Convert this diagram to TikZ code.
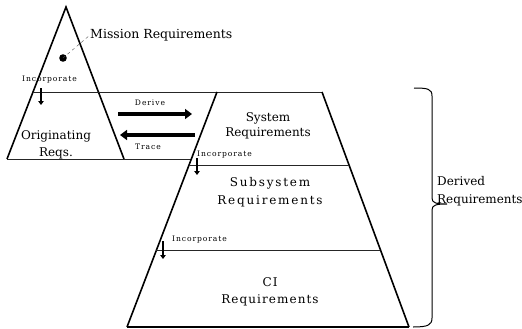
\documentclass[tikz,border=0pt]{standalone}
\usepackage{fontspec}
\setmainfont{DejaVu Serif}
\newfontfamily\incfont[LetterSpace=12]{DejaVu Serif}
\newfontfamily\subfont[LetterSpace=15]{DejaVu Serif}
\newfontfamily\cifont[LetterSpace=9]{DejaVu Serif}
\usetikzlibrary{arrows.meta}
\begin{document}
\begin{tikzpicture}[x=1pt,y=-1pt,
 edge/.style={line width=1.6pt, line join=miter},
 hline/.style={line width=1pt, black!85},
 lbl/.style={font=\fontsize{12}{16}\selectfont, align=center, inner sep=0},
 small/.style={font=\incfont\fontsize{7.6}{8}\selectfont, inner sep=0},
 bigarrow/.style={line width=3.8pt, -{Triangle[length=7pt,width=10pt]}},
 incarrow/.style={line width=1.8pt, -{Triangle[length=4pt,width=5.5pt]}},
]
\useasboundingbox (0,0) rectangle (522,329);
% corners
\coordinate (apex) at (66,7);
\coordinate (tbl) at (7,159);
\coordinate (tbr) at (124,159);
\coordinate (ttl) at (217,92);
\coordinate (ttr) at (322,92);
\coordinate (tbL) at (127,327);
\coordinate (tbR) at (409,327);
% small triangle
\draw[edge] (tbl) -- (apex) -- (tbr);
\draw[hline] (33,92) -- (ttr);
\draw[hline] (tbl) -- (191,159);
% trapezoid
\draw[edge] (ttl) -- (tbL);
\draw[edge] (ttr) -- (tbR);
\draw[hline] (189,165) -- (349,165);
\draw[hline] (156,250) -- (380,250);
\draw[line width=1.6pt] (tbL) -- (tbR);
% brace
\draw[line width=1pt] (414,88) .. controls (428,88) and (432,89) .. (432,96) -- (432,198) .. controls (432,203) and (436,204) .. (447,204) .. controls (436,204) and (432,205) .. (432,210) -- (432,318) .. controls (432,325) and (428,327) .. (413,327);
% labels
\node[lbl, anchor=west, font=\fontsize{12.5}{16}\selectfont] (mission) at (90,35) {Mission Requirements};
\node[lbl, font=\fontsize{12}{17}\selectfont] (orig) at (56,144.5) {Originating\\Reqs.};
\node[lbl, font=\fontsize{12}{15}\selectfont] (sys) at (268,125.5) {System\\Requirements};
\node[lbl, font=\subfont\fontsize{12}{18}\selectfont] (sub) at (270,192) {Subsystem\\Requirements};
\node[lbl, font=\cifont\fontsize{12}{17}\selectfont] (ci) at (270,291.5) {CI\\Requirements};
\node[lbl, anchor=west, align=left, font=\fontsize{12}{18}\selectfont] (derived) at (437,191) {Derived\\Requirements};
\node[small, anchor=west] (inc1) at (22,80) {Incorporate};
\node[small, anchor=west] (inc2) at (197,155) {Incorporate};
\node[small, anchor=west] (inc3) at (172,240) {Incorporate};
\node[small] (derive) at (150,103) {Derive};
\node[small] (trace) at (148,147) {Trace};
% dot and leader
\fill (63,58) circle (3.8) coordinate (dot);
\draw[dashed, thin, black!70] (dot) -- (mission.west);
% arrows
\coordinate (d1) at (118,114); \coordinate (d2) at (192,114);
\coordinate (t1) at (195,135); \coordinate (t2) at (120,135);
\draw[bigarrow] (d1) -- (d2);
\draw[bigarrow] (t1) -- (t2);
\coordinate (i1a) at (41,88); \coordinate (i1b) at (41,105);
\coordinate (i2a) at (197,158); \coordinate (i2b) at (197,175);
\coordinate (i3a) at (163,241); \coordinate (i3b) at (163,259);
\draw[incarrow] (i1a) -- (i1b);
\draw[incarrow] (i2a) -- (i2b);
\draw[incarrow] (i3a) -- (i3b);
\end{tikzpicture}
\end{document}
